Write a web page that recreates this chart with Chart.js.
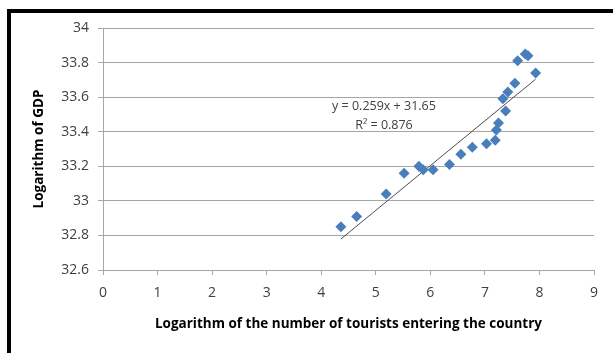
<!DOCTYPE html>
<html>
<head>
<meta charset="utf-8">
<script src="https://cdn.jsdelivr.net/npm/chart.js@4/dist/chart.umd.min.js"></script>
<style>
  html, body { margin: 0; padding: 0; background: #ffffff; }
  #wrap { position: relative; width: 613px; height: 353px; overflow: hidden; }
  #frame {
    position: absolute; left: 7px; top: 9px; width: 700px; height: 400px;
    border-left: 4px solid #000; border-top: 4px solid #000;
  }
  canvas { position: absolute; left: 0; top: 0; }
</style>
</head>
<body>
<div id="wrap">
  <div id="frame"></div>
  <canvas id="c" width="613" height="353"></canvas>
</div>
<script>
// Logarithm of tourist arrivals (x) against logarithm of GDP (y)
const tourists = [4.36, 4.65, 5.19, 5.52, 5.79, 5.87, 6.05, 6.35, 6.56, 6.77, 7.03,
                  7.19, 7.21, 7.25, 7.38, 7.33, 7.42, 7.55, 7.60, 7.74, 7.79, 7.93];
const gdp      = [32.85, 32.91, 33.04, 33.16, 33.20, 33.18, 33.18, 33.21, 33.27, 33.31, 33.33,
                  33.35, 33.41, 33.45, 33.52, 33.59, 33.63, 33.68, 33.81, 33.85, 33.84, 33.74];

// Linear trend fitted to the data
const slope = 0.259;
const intercept = 31.65;
const rSquared = 0.876;
const equationText = 'y = ' + slope + 'x + ' + intercept.toFixed(2);
const rSquaredText = 'R\u00B2 = ' + rSquared;

const xTicks = [0, 1, 2, 3, 4, 5, 6, 7, 8, 9];
const yTicks = [32.6, 32.8, 33, 33.2, 33.4, 33.6, 33.8, 34];

const points = tourists.map((x, i) => ({ x: x, y: gdp[i] }));
const xMin = Math.min(...tourists);
const xMax = Math.max(...tourists);
const trend = [
  { x: xMin, y: slope * xMin + intercept },
  { x: xMax, y: slope * xMax + intercept }
];

const FONT = "'Open Sans', 'Liberation Sans', sans-serif";
const GRID = '#a6a6a6';
const TEXT = '#404040';

// Equation label placed above the trend line
const equationLabel = {
  id: 'equationLabel',
  afterDatasetsDraw(chart) {
    const { ctx, scales } = chart;
    const cx = scales.x.getPixelForValue(5.15);
    const cy = scales.y.getPixelForValue(33.548);
    ctx.save();
    ctx.font = '12.5px ' + FONT;
    ctx.fillStyle = TEXT;
    ctx.textAlign = 'center';
    ctx.textBaseline = 'middle';
    ctx.fillText(equationText, cx, cy);
    ctx.fillText(rSquaredText, cx, cy + 19);
    ctx.restore();
  }
};

new Chart(document.getElementById('c'), {
  type: 'scatter',
  data: {
    datasets: [
      {
        label: 'GDP',
        data: points,
        pointStyle: 'rectRot',
        pointRadius: 5.5,
        pointHoverRadius: 5.5,
        backgroundColor: '#4A7EBB',
        borderColor: '#4A7EBB',
        borderWidth: 0,
        order: 1
      },
      {
        label: 'Linear trend',
        type: 'line',
        data: trend,
        borderColor: '#4d4d4d',
        borderWidth: 1,
        pointRadius: 0,
        fill: false,
        order: 2
      }
    ]
  },
  options: {
    responsive: false,
    animation: false,
    events: [],
    layout: { padding: { left: 0, top: 28, right: 19, bottom: 0 } },
    plugins: { legend: { display: false }, tooltip: { enabled: false } },
    scales: {
      x: {
        type: 'linear',
        min: 0, max: 9,
        afterBuildTicks(scale) { scale.ticks = xTicks.map(v => ({ value: v })); },
        afterFit(scale) { scale.height = 83; },
        grid: { drawOnChartArea: false, drawTicks: true, tickLength: 5, color: GRID, lineWidth: 1 },
        border: { display: true, color: GRID, width: 1 },
        ticks: { color: TEXT, font: { family: FONT, size: 14 }, padding: 10 },
        title: {
          display: true,
          text: 'Logarithm of the number of tourists entering the country',
          color: '#000',
          font: { family: FONT, size: 13.5, weight: 'bold' },
          padding: { top: 0, bottom: 21 }
        }
      },
      y: {
        type: 'linear',
        min: 32.6, max: 34,
        afterBuildTicks(scale) { scale.ticks = yTicks.map(v => ({ value: v })); },
        afterFit(scale) { scale.width = 103; },
        grid: { drawOnChartArea: true, drawTicks: true, tickLength: 5, color: GRID, lineWidth: 1 },
        border: { display: true, color: GRID, width: 1 },
        ticks: { color: TEXT, font: { family: FONT, size: 14 }, padding: 9,
                 callback: v => String(v) },
        title: {
          display: true,
          text: 'Logarithm of GDP',
          color: '#000',
          font: { family: FONT, size: 13.5, weight: 'bold' },
          padding: { top: 31, bottom: 0 }
        }
      }
    }
  },
  plugins: [equationLabel]
});
</script>
</body>
</html>
